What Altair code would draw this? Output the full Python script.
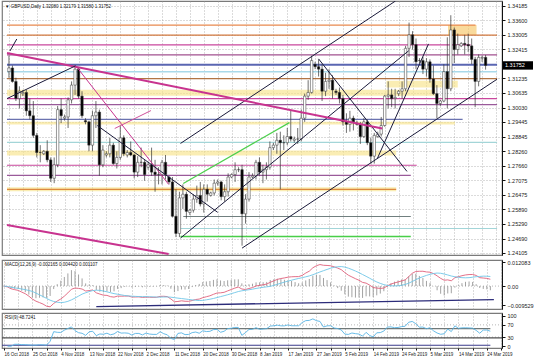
import altair as alt
import pandas as pd

# ---------------- data (GBPUSD daily, one bar per trading day incl. short Sunday bars) -------------
opens = [1.3150,1.3165,1.3110,1.3040,1.3060,1.3065,1.2990,1.2970,1.2890,1.2820,
         1.2815,1.2825,1.2790,1.2715,1.2770,1.2995,1.2960,1.2965,1.3035,1.3095,
         1.3160,1.3050,1.2950,1.2945,1.2850,1.2970,1.2985,1.2770,1.2810,1.2815,
         1.2850,1.2775,1.2800,1.2880,1.2810,1.2820,1.2810,1.2740,1.2780,1.2780,
         1.2760,1.2770,1.2740,1.2730,1.2730,1.2780,1.2720,1.2700,1.2560,1.2490,
         1.2635,1.2650,1.2575,1.2585,1.2630,1.2645,1.2610,1.2670,1.2645,1.2655,
         1.2695,1.2700,1.2640,1.2660,1.2720,1.2730,1.2750,1.2750,1.2570,1.2630,
         1.2720,1.2725,1.2780,1.2740,1.2750,1.2760,1.2840,1.2850,1.2870,1.2860,
         1.2860,1.2885,1.2870,1.2875,1.2875,1.2960,1.3050,1.3065,1.3180,1.3170,
         1.3160,1.3070,1.3110,1.3115,1.3070,1.3065,1.3040,1.2945,1.2935,1.2960,
         1.2940,1.2935,1.2885,1.2945,1.2860,1.2805,1.2885,1.2895,1.2930,1.3050,
         1.3055,1.3040,1.3060,1.3070,1.3080,1.3245,1.3300,1.3260,1.3195,1.3195,
         1.3160,1.3190,1.3120,1.3060,1.3020,1.3030,1.3150,1.3080,1.3320,1.3240,
         1.3255,1.3265,1.3260,1.3255,1.3200,1.3110,1.3205,1.32080]
highs = [1.3215,1.3175,1.3125,1.3090,1.3075,1.3075,1.3040,1.3030,1.2900,1.2850,
         1.2830,1.2870,1.2800,1.2800,1.3010,1.3040,1.2975,1.3045,1.3110,1.3175,
         1.3165,1.3070,1.2960,1.2950,1.2990,1.3030,1.2995,1.2850,1.2825,1.2880,
         1.2860,1.2825,1.2930,1.2890,1.2830,1.2865,1.2815,1.2805,1.2840,1.2790,
         1.2780,1.2840,1.2790,1.2760,1.2790,1.2810,1.2725,1.2720,1.2670,1.2660,
         1.2690,1.2660,1.2590,1.2650,1.2685,1.2700,1.2690,1.2690,1.2660,1.2710,
         1.2710,1.2705,1.2690,1.2735,1.2735,1.2780,1.2760,1.2770,1.2650,1.2740,
         1.2735,1.2790,1.2800,1.2770,1.2780,1.2865,1.2860,1.2900,1.2905,1.2890,
         1.2920,1.2990,1.2885,1.2920,1.2995,1.3060,1.3115,1.3215,1.3190,1.3200,
         1.3180,1.3145,1.3160,1.3135,1.3080,1.3085,1.3055,1.2980,1.2990,1.2970,
         1.2950,1.2945,1.2960,1.2955,1.2880,1.2900,1.2905,1.2965,1.3055,1.3110,
         1.3080,1.3080,1.3075,1.3110,1.3255,1.3350,1.3315,1.3285,1.3205,1.3210,
         1.3205,1.3200,1.3175,1.3095,1.3035,1.3180,1.3290,1.3380,1.3330,1.3305,
         1.3270,1.3300,1.3305,1.3285,1.3210,1.3220,1.3215,1.32179]
lows = [1.3125,1.3105,1.3030,1.3000,1.3050,1.2970,1.2955,1.2880,1.2800,1.2780,
        1.2810,1.2780,1.2700,1.2695,1.2760,1.2940,1.2950,1.2920,1.3020,1.3055,
        1.3040,1.2960,1.2935,1.2825,1.2825,1.2920,1.2725,1.2760,1.2800,1.2800,
        1.2770,1.2755,1.2790,1.2805,1.2800,1.2805,1.2715,1.2720,1.2760,1.2705,
        1.2750,1.2725,1.2660,1.2690,1.2690,1.2710,1.2690,1.2555,1.2475,1.2475,
        1.2590,1.2550,1.2565,1.2575,1.2615,1.2600,1.2575,1.2620,1.2640,1.2645,
        1.2685,1.2625,1.2620,1.2640,1.2715,1.2700,1.2740,1.2440,1.2530,1.2620,
        1.2715,1.2710,1.2725,1.2695,1.2710,1.2750,1.2830,1.2815,1.2670,1.2830,
        1.2850,1.2865,1.2860,1.2855,1.2865,1.2945,1.3035,1.3060,1.3160,1.3130,
        1.3030,1.3050,1.3080,1.3040,1.3055,1.3020,1.2930,1.2900,1.2905,1.2910,
        1.2930,1.2855,1.2880,1.2850,1.2775,1.2775,1.2880,1.2885,1.2925,1.3000,
        1.3005,1.3000,1.3050,1.3040,1.3070,1.3210,1.3240,1.3160,1.3185,1.3140,
        1.3130,1.3105,1.3055,1.2960,1.3010,1.3025,1.3000,1.3070,1.3185,1.3220,
        1.3250,1.3220,1.3230,1.3180,1.3005,1.3090,1.3190,1.31580]
closes = [1.3165,1.3110,1.3040,1.3070,1.3065,1.2990,1.2970,1.2890,1.2820,1.2820,
          1.2825,1.2790,1.2715,1.2770,1.2995,1.2970,1.2965,1.3035,1.3095,1.3160,
          1.3050,1.2970,1.2945,1.2850,1.2970,1.2985,1.2770,1.2830,1.2815,1.2850,
          1.2775,1.2800,1.2880,1.2815,1.2820,1.2810,1.2740,1.2780,1.2780,1.2730,
          1.2770,1.2740,1.2730,1.2730,1.2780,1.2730,1.2700,1.2560,1.2490,1.2635,
          1.2650,1.2580,1.2585,1.2630,1.2645,1.2610,1.2670,1.2650,1.2655,1.2695,
          1.2700,1.2640,1.2660,1.2720,1.2730,1.2750,1.2750,1.2570,1.2630,1.2720,
          1.2725,1.2780,1.2740,1.2750,1.2760,1.2840,1.2850,1.2870,1.2860,1.2860,
          1.2885,1.2875,1.2875,1.2875,1.2960,1.3050,1.3065,1.3195,1.3170,1.3160,
          1.3070,1.3110,1.3115,1.3075,1.3065,1.3040,1.2945,1.2935,1.2960,1.2945,
          1.2935,1.2885,1.2945,1.2860,1.2805,1.2890,1.2895,1.2930,1.3050,1.3055,
          1.3040,1.3045,1.3070,1.3080,1.3245,1.3300,1.3260,1.3190,1.3195,1.3160,
          1.3190,1.3120,1.3060,1.3020,1.3030,1.3150,1.3080,1.3320,1.3240,1.3260,
          1.3265,1.3260,1.3255,1.3200,1.3110,1.3208,1.3208,1.31752]

axis_dates = ["16 Oct 2018", "25 Oct 2018", "4 Nov 2018", "13 Nov 2018", "22 Nov 2018",
              "2 Dec 2018", "11 Dec 2018", "20 Dec 2018", "30 Dec 2018", "8 Jan 2019",
              "17 Jan 2019", "27 Jan 2019", "5 Feb 2019", "14 Feb 2019", "24 Feb 2019",
              "5 Mar 2019", "14 Mar 2019", "24 Mar 2019"]
price_ticks = [1.34185, 1.33600, 1.33005, 1.32415, 1.31235, 1.30635, 1.30030, 1.29445,
               1.28845, 1.28260, 1.27660, 1.27075, 1.26475, 1.25890, 1.25290, 1.24690, 1.24105]
macd_ticks = [0.012083, 0.0, -0.009529]
rsi_ticks = [100, 70, 30, 0]
last_price = 1.31752

# horizontal levels drawn on the chart: price, from bar, to bar
hl_price = [1.3340, 1.3299, 1.3259, 1.3218, 1.3178, 1.3149, 1.3121, 1.3040, 1.3015, 1.2955,
            1.2861, 1.2768, 1.2727, 1.2670, 1.2559, 1.2510, 1.2477]
hl_from = [-0.56, -0.56, -0.56, -0.56, -0.56, -0.56, -0.56, -0.56, -0.56, -0.56,
           -0.56, -0.56, -0.56, -0.56, 50.1, 49.3, 49.3]
hl_to = [134.1, 140.3, 132.7, 140.3, 140.3, 140.3, 140.3, 140.3, 140.3, 130.4,
         140.3, 117.2, 115.5, 111.3, 115.5, 140.3, 115.5]
hl_colors = ["#e8894f", "#d2783f", "#c9479d", "#a2508f", "#5a66b2", "#a9d9ea", "#b27545", "#c9479d",
             "#9a5a9a", "#6b73b0", "#a3d5d8", "#c9479d", "#9a5a9a", "#dd8a40", "#707f7f", "#a3d5d8", "#49cf49"]
hl_widths = [1.2, 1.2, 1.2, 1.2, 2.0, 1.5, 1.2, 1.2, 1.2, 1.2, 1.2, 1.2, 1.2, 1.2, 1.2, 1.2, 1.5]

# highlighted zones: low price, high price, from bar, to bar
bd_lo = [1.3299, 1.3052, 1.3085, 1.2934, 1.2808, 1.2662]
bd_hi = [1.3340, 1.3076, 1.3113, 1.2946, 1.2828, 1.2678]
bd_from = [126.2, -0.56, 108.5, -0.56, -0.56, -0.56]
bd_to = [134.4, 122.5, 129.0, 128.2, 111.3, 111.3]
bd_colors = ["#f6c667", "#f7e48a", "#f7e48a", "#f7e48a", "#f7e48a", "#f7e48a"]

# trend lines: (bar, price) -> (bar, price)
tl_i1 = [67.0, 49.3, 49.3, 89.0, 105.9, -0.56, -0.56, -0.56, 0.28, 19.2, 25.4, 50.1, 30.4]
tl_p1 = [1.2430, 1.2857, 1.2471, 1.3202, 1.2796, 1.3226, 1.2524, 1.3040, 1.3234, 1.3174, 1.2930, 1.2694, 1.2918]
tl_i2 = [140.3, 111.1, 114.9, 114.4, 120.6, 107.3, 45.9, 19.2, 2.25, 45.9, 60.0, 80.6, 40.8]
tl_p2 = [1.3119, 1.3438, 1.3235, 1.2743, 1.3263, 1.2918, 1.2406, 1.3174, 1.3283, 1.2690, 1.2576, 1.2942, 1.2991]
tl_colors = ["#1a1a3a", "#1a1a3a", "#1a1a3a", "#1a1a3a", "#1a1a3a", "#c8338f", "#c8338f", "#1a1a3a",
             "#1a1a3a", "#c8338f", "#1a1a3a", "#4ccf4c", "#d0509a"]
tl_widths = [1, 1, 1, 1, 1, 2, 2, 1, 1, 1, 1, 1.2, 1]

# lines drawn in indicator windows
macd_line_i = [26.0, 138.0]
macd_line_v = [-0.0103, -0.0068]
rsi_lines_v = [57.5, 27.0, 3.0]
rsi_lines_to = [137.0, 140.3, 137.0]
rsi_line_colors = ["#707878", "#505050", "#3a3a8a"]

# ---------------- tables ----------------
n = len(closes)
df = pd.DataFrame({"i": range(n), "open": opens, "high": highs, "low": lows, "close": closes})
df["top"] = df[["open", "close"]].max(axis=1)
df["bot"] = df[["open", "close"]].min(axis=1)
df["dir"] = ["up" if c >= o else "down" for o, c in zip(opens, closes)]

c = pd.Series(closes)
ema12 = c.ewm(span=12, adjust=False).mean()
ema26 = c.ewm(span=26, adjust=False).mean()
macd = ema12 - ema26
signal = macd.rolling(9, min_periods=1).mean()
ind = pd.DataFrame({"i": range(n), "macd": macd, "signal": signal, "hist": (macd - signal) * 1.5})
d = c.diff()
ag = d.clip(lower=0).ewm(alpha=1 / 9, adjust=False).mean()
al = (-d.clip(upper=0)).ewm(alpha=1 / 9, adjust=False).mean()
ind["rsi"] = 100 - 100 / (1 + ag / al)
rsi_df = ind.dropna(subset=["rsi"])

hl = pd.DataFrame({"p": hl_price, "f": hl_from, "t": hl_to, "c": hl_colors, "w": hl_widths})
bd = pd.DataFrame({"lo": bd_lo, "hi": bd_hi, "f": bd_from, "t": bd_to, "c": bd_colors})
tl = pd.DataFrame({"i1": tl_i1, "p1": tl_p1, "i2": tl_i2, "p2": tl_p2, "c": tl_colors, "w": tl_widths})

FONT = "Liberation Sans"
XDOM = [-0.56, 140.28]
grid_vals = list(range(0, 141, 4))
xs = alt.Scale(domain=XDOM, nice=False, zero=False)
grid_axis = alt.Axis(values=grid_vals, labels=False, ticks=False, domain=False, grid=True,
                     gridDash=[1, 2], gridColor="#9a9a9a", gridWidth=0.7, title=None,
                     labelPadding=0, tickSize=0, offset=0, minExtent=0, maxExtent=0)
ys = alt.Scale(domain=[1.2402, 1.3438], nice=False, zero=False)
yaxis = alt.Axis(orient="right", values=price_ticks, format=".5f", grid=True, gridDash=[1, 2],
                 gridColor="#9a9a9a", gridWidth=0.7, title=None, tickSize=3, labelFontSize=5.5,
                 labelFont=FONT, labelColor="#222", domainColor="#111", tickColor="#111", labelPadding=2)

W = 500

bands = alt.Chart(bd).mark_rect(opacity=0.65).encode(
    x=alt.X("f:Q", scale=xs, axis=grid_axis), x2="t:Q",
    y=alt.Y("lo:Q", scale=ys, axis=yaxis), y2="hi:Q",
    fill=alt.Fill("c:N", scale=None))
hlines = alt.Chart(hl).mark_rule().encode(
    x=alt.X("f:Q", scale=xs, axis=grid_axis), x2="t:Q",
    y=alt.Y("p:Q", scale=ys, axis=yaxis),
    color=alt.Color("c:N", scale=None), strokeWidth=alt.StrokeWidth("w:Q", scale=None))
wicks = alt.Chart(df).mark_rule(color="#333333", strokeWidth=0.7).encode(
    x=alt.X("i:Q", scale=xs, axis=grid_axis),
    y=alt.Y("low:Q", scale=ys, axis=yaxis), y2="high:Q")
bodies = alt.Chart(df).mark_bar(size=2.4, stroke="#333333", strokeWidth=0.5).encode(
    x=alt.X("i:Q", scale=xs, axis=grid_axis),
    y=alt.Y("bot:Q", scale=ys, axis=yaxis), y2="top:Q",
    fill=alt.Fill("dir:N", scale=alt.Scale(domain=["up", "down"], range=["#ffffff", "#000000"]), legend=None))
trends = alt.Chart(tl).mark_rule(clip=True).encode(
    x=alt.X("i1:Q", scale=xs, axis=grid_axis), x2="i2:Q",
    y=alt.Y("p1:Q", scale=ys, axis=yaxis), y2="p2:Q",
    color=alt.Color("c:N", scale=None), strokeWidth=alt.StrokeWidth("w:Q", scale=None))
lp = pd.DataFrame({"p": [last_price], "t": [f"{last_price:.5f}"]})
box = alt.Chart(lp).mark_point(shape="M-1,-0.28L1,-0.28L1,0.28L-1,0.28Z", filled=True,
                               color="#000000", size=900, opacity=1).encode(
    x=alt.value(516), y=alt.Y("p:Q", scale=ys, axis=yaxis))
box_txt = alt.Chart(lp).mark_text(align="left", baseline="middle", color="white", fontSize=5.5,
                                  font=FONT).encode(
    x=alt.value(503), y=alt.Y("p:Q", scale=ys, axis=yaxis), text="t:N")
header = alt.Chart(pd.DataFrame({"t": ["\u25bc GBPUSD,Daily  1.32080 1.32179 1.31580 1.31752"]})).mark_text(
    align="left", baseline="top", fontSize=4.5, font=FONT, color="#111").encode(
    x=alt.value(3), y=alt.value(3), text="t:N")

main = alt.layer(bands, hlines, wicks, bodies, trends, box, box_txt, header).properties(width=W, height=254)

# ---- MACD panel
ms = alt.Scale(domain=[-0.0115, 0.0131], nice=False, zero=False)
maxis = alt.Axis(orient="right", values=macd_ticks, grid=False, title=None, tickSize=3, labelFontSize=5.5,
                 labelFont=FONT, labelColor="#222", domainColor="#111", tickColor="#111", labelPadding=2,
                 labelExpr="datum.value == 0 ? '0.00' : format(datum.value, '.6f')")
zero_df = pd.DataFrame({"v": [0.0]})
mzero = alt.Chart(zero_df).mark_rule(color="#9a9a9a", strokeDash=[1, 2], strokeWidth=0.7).encode(
    y=alt.Y("v:Q", scale=ms, axis=maxis))
mhist = alt.Chart(ind).mark_rule(color="#8c8c8c", strokeWidth=0.8, clip=True).encode(
    x=alt.X("i:Q", scale=xs, axis=grid_axis), y=alt.Y("hist:Q", scale=ms, axis=maxis), y2=alt.Y2(datum=0))
mline = alt.Chart(ind).mark_line(color="#e0607a", strokeWidth=0.9, clip=True).encode(
    x=alt.X("i:Q", scale=xs, axis=grid_axis), y=alt.Y("macd:Q", scale=ms, axis=maxis))
sline = alt.Chart(ind).mark_line(color="#6fc6e8", strokeWidth=0.9, clip=True).encode(
    x=alt.X("i:Q", scale=xs, axis=grid_axis), y=alt.Y("signal:Q", scale=ms, axis=maxis))
mtl = alt.Chart(pd.DataFrame({"i": macd_line_i, "v": macd_line_v})).mark_line(color="#2c2c7a", strokeWidth=1.4).encode(
    x=alt.X("i:Q", scale=xs, axis=grid_axis), y=alt.Y("v:Q", scale=ms, axis=maxis))
mtxt = alt.Chart(pd.DataFrame({"t": ["MACD(12,26,9) -0.002165 0.004420 0.001107"]})).mark_text(
    align="left", baseline="top", fontSize=4.5, font=FONT, color="#111").encode(
    x=alt.value(3), y=alt.value(2), text="t:N")
macd_panel = alt.layer(mzero, mhist, mline, sline, mtl, mtxt).properties(width=W, height=49)

# ---- RSI panel
rs = alt.Scale(domain=[-6, 109], nice=False, zero=False)
raxis = alt.Axis(orient="right", values=rsi_ticks, grid=False, title=None, tickSize=3, labelFontSize=5.5,
                 labelFont=FONT, labelColor="#222", domainColor="#111", tickColor="#111", labelPadding=2)
lab_js = "[" + ",".join("'" + s + "'" for s in axis_dates) + "]"
xaxis_bottom = alt.Axis(values=grid_vals, grid=True, gridDash=[1, 2], gridColor="#9a9a9a", gridWidth=0.7,
                        title=None, labelAlign="left", labelFontSize=4.5, labelFont=FONT, labelColor="#222",
                        tickSize=2, tickColor="#111", domain=False, labelPadding=1, labelFlush=False,
                        labelOverlap=False,
                        labelExpr="datum.value % 8 == 0 ? " + lab_js + "[datum.value / 8] : ''")
rlev = alt.Chart(pd.DataFrame({"v": [70, 30]})).mark_rule(color="#9a9a9a", strokeDash=[1, 2], strokeWidth=0.7).encode(
    y=alt.Y("v:Q", scale=rs, axis=raxis))
rtl = alt.Chart(pd.DataFrame({"v": rsi_lines_v, "f": [-0.56] * 3, "t": rsi_lines_to, "c": rsi_line_colors})).mark_rule(
    strokeWidth=1.2).encode(
    x=alt.X("f:Q", scale=xs, axis=xaxis_bottom), x2="t:Q", y=alt.Y("v:Q", scale=rs, axis=raxis),
    color=alt.Color("c:N", scale=None))
rline = alt.Chart(rsi_df).mark_line(color="#58b4e4", strokeWidth=0.9, clip=True).encode(
    x=alt.X("i:Q", scale=xs, axis=xaxis_bottom), y=alt.Y("rsi:Q", scale=rs, axis=raxis))
rtxt = alt.Chart(pd.DataFrame({"t": ["RSI(9) 48.7241"]})).mark_text(
    align="left", baseline="top", fontSize=4.5, font=FONT, color="#111").encode(
    x=alt.value(3), y=alt.value(2), text="t:N")
rsi_panel = alt.layer(rlev, rtl, rline, rtxt).properties(width=W, height=35)

chart = alt.vconcat(main, macd_panel, rsi_panel, spacing=1).properties(
    padding={"left": 0, "top": 0, "right": 0, "bottom": 0}, background="white"
).configure_view(stroke="#7a7a7a", strokeWidth=1.2)

chart.save("out.html", embed_options={"renderer": "svg", "actions": False})
